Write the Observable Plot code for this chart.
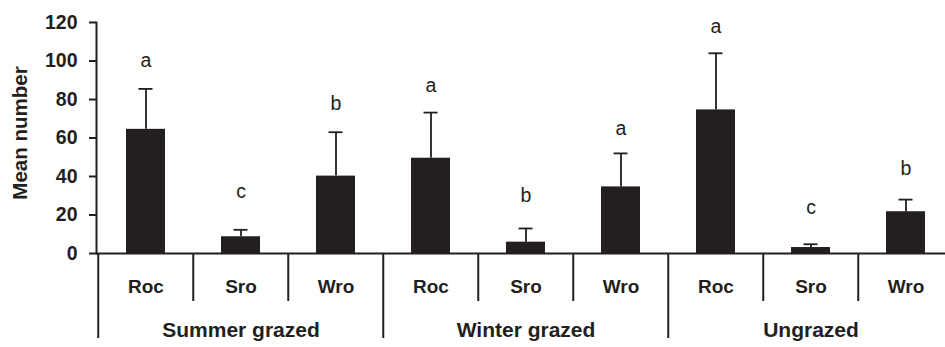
<!DOCTYPE html>
<html><head><meta charset="utf-8">
<script src="https://cdn.jsdelivr.net/npm/d3@7"></script>
<script src="https://cdn.jsdelivr.net/npm/@observablehq/plot@0.6"></script>
<style>html,body{margin:0;padding:0;background:#fff;overflow:hidden}</style>
</head><body><div id="chart"></div>
<script>
const groups = ["Summer grazed", "Winter grazed", "Ungrazed"];
const categories = ["Roc", "Sro", "Wro"];
const means = [64.5, 8.7, 40.2, 49.5, 5.9, 34.6, 74.6, 3.1, 21.7];
const upper = [85.5, 12.3, 63, 73.2, 13, 52, 104, 4.8, 28];
const letters = ["a", "c", "b", "a", "b", "a", "a", "c", "b"];
const letterAt = [100, 32, 78, 87, 30, 65, 118, 24, 44];
const yTicks = [0, 20, 40, 60, 80, 100, 120];

const ink = "#231f20";
const W = 945, H = 347, ML = 96, MR = -10.5, MT = 22, MB = 94;
const rows = groups.flatMap((g, gi) => categories.map((c, ci) => {
  const i = gi * 3 + ci;
  return {key: g + "|" + c, group: g, cat: c, first: ci === 0, mean: means[i], upper: upper[i], letter: letters[i], letterAt: letterAt[i]};
}));
const keys = rows.map(d => d.key);
const step = (W - ML - MR) / keys.length;

const chart = Plot.plot({
  width: W, height: H,
  marginLeft: ML, marginRight: MR, marginTop: MT, marginBottom: MB,
  x: {domain: keys, paddingInner: 0.59, paddingOuter: 0.295, axis: null},
  y: {domain: [0, 120], axis: null},
  style: {fontFamily: "'Liberation Sans', Arial, sans-serif", fontWeight: "bold", fontSize: "19px", color: ink, background: "#fff"},
  marks: [
    Plot.barY(rows, {x: "key", y: "mean", fill: ink}),
    Plot.ruleX(rows, {x: "key", y1: "mean", y2: "upper", stroke: ink, strokeWidth: 1.8}),
    Plot.tickY(rows, {x: "key", y: "upper", stroke: ink, strokeWidth: 1.8, insetLeft: 12.5, insetRight: 12.5}),
    Plot.text(rows, {x: "key", y: "letterAt", text: "letter", fontSize: 19.5, fontWeight: "normal", fill: ink}),
    Plot.ruleY([0], {stroke: ink, strokeWidth: 2}),
    Plot.frame({anchor: "left", stroke: ink, strokeWidth: 2}),
    Plot.axisY({ticks: yTicks, tickSize: 7, tickFormat: () => "", label: null, stroke: ink, strokeWidth: 2}),
    Plot.text(yTicks, {frameAnchor: "left", y: d => d, text: d => String(d), textAnchor: "end", dx: -19, fontSize: 19.5, fill: ink}),
    Plot.ruleX(rows.filter(d => d.first), {x: "key", y1: d => 0, y2: d => 0, dx: -step / 2, insetBottom: -85, stroke: ink, strokeWidth: 2}),
    Plot.ruleX(rows.filter(d => !d.first), {x: "key", y1: d => 0, y2: d => 0, dx: -step / 2, insetBottom: -48, stroke: ink, strokeWidth: 2}),
    Plot.text(rows, {x: "key", y: d => 0, text: "cat", dy: 33, fontSize: 19, fill: ink}),
    Plot.text(groups, {x: (g, i) => keys[i * 3 + 1], y: d => 0, text: d => d, dy: 77, fontSize: 21, fill: ink}),
    Plot.text(["Mean number"], {frameAnchor: "left", textAnchor: "middle", text: d => d, rotate: -90, dx: -76, dy: -5, fontSize: 20.5, fill: ink})
  ]
});
document.getElementById("chart").appendChild(chart);
</script>
</body></html>
